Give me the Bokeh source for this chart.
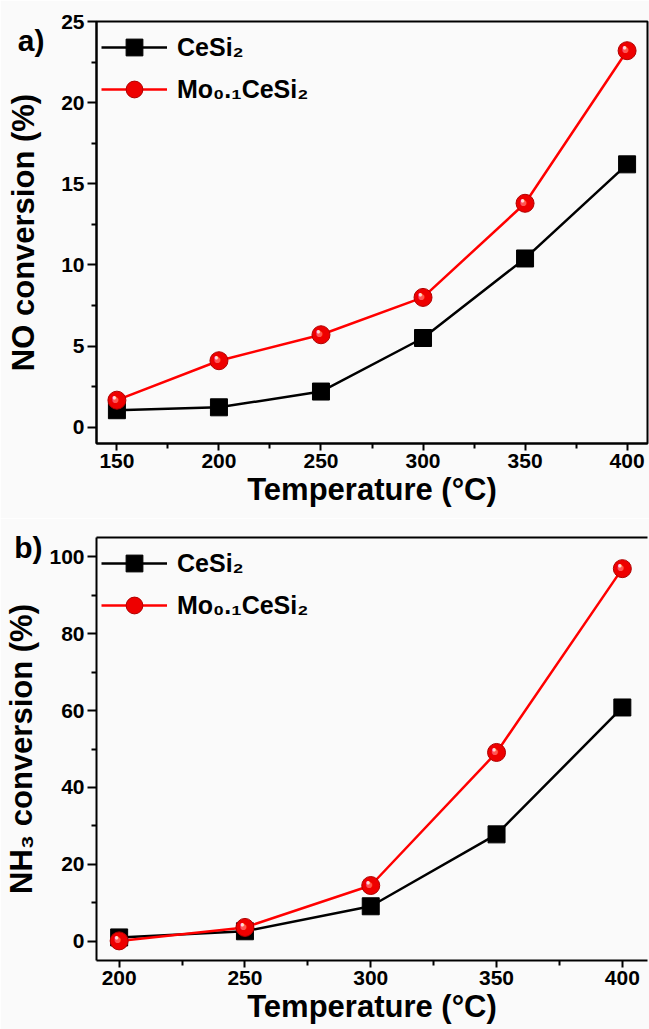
from bokeh.plotting import figure
from bokeh.models import Range1d, LinearAxis, Legend, LegendItem, FixedTicker
from bokeh.layouts import column
from bokeh.embed import file_html
from bokeh.resources import INLINE

# ---- data ----
temp_a = [150, 200, 250, 300, 350, 400]
no_cesi2 = [1.05, 1.23, 2.2, 5.5, 10.4, 16.2]
no_mo = [1.67, 4.1, 5.7, 8.0, 13.8, 23.2]

temp_b = [200, 250, 300, 350, 400]
nh3_cesi2 = [1.0, 2.6, 9.1, 27.8, 60.8]
nh3_mo = [0.1, 3.6, 14.5, 49.1, 96.9]

xticks_a = [150, 200, 250, 300, 350, 400]
yticks_a = [0, 5, 10, 15, 20, 25]
xticks_b = [200, 250, 300, 350, 400]
yticks_b = [0, 20, 40, 60, 80, 100]

series_labels = ["CeSi₂", "Mo₀.₁CeSi₂"]
xlabel = "Temperature (°C)"
ylabel_a = "NO conversion (%)"
ylabel_b = "NH₃ conversion (%)"
panel_tags = ["a)", "b)"]

FONT = "Liberation Sans"
BG = "#fafafa"


def mids(t):
    return [(a + b) / 2 for a, b in zip(t[:-1], t[1:])]


def style_axis(ax, ticks, tick_out, label=None, label_standoff=0):
    ax.ticker = FixedTicker(ticks=ticks, minor_ticks=mids(ticks))
    ax.axis_line_width = 2
    ax.axis_line_color = "black"
    ax.major_tick_line_width = 2
    ax.major_tick_out = tick_out
    ax.major_tick_in = 0
    ax.minor_tick_line_width = 2
    ax.minor_tick_out = 5
    ax.minor_tick_in = 0
    ax.major_label_text_font = FONT
    ax.major_label_text_font_style = "bold"
    ax.major_label_text_font_size = "21px"
    ax.major_label_text_color = "black"
    ax.major_label_standoff = 3
    ax.axis_label = label
    ax.axis_label_text_font = FONT
    ax.axis_label_text_font_style = "bold"
    ax.axis_label_text_font_size = "31px"
    ax.axis_label_text_color = "black"
    ax.axis_label_standoff = label_standoff


def make_panel(x, y1, y2, xr, yr, xt, yt, ylab, height, btop, bbot,
               tag, tag_pos, tag_standoff, ylab_standoff, boxed):
    p = figure(width=649, height=height, x_range=Range1d(*xr), y_range=Range1d(*yr),
               output_backend="svg", toolbar_location=None,
               min_border_left=96, min_border_right=2 if boxed else 0,
               min_border_top=btop, min_border_bottom=bbot,
               background_fill_color=BG, border_fill_color=BG)
    p.grid.visible = False
    style_axis(p.xaxis[0], xt, 7, xlabel, 1)
    style_axis(p.yaxis[0], yt, 9, None)

    # outer left axis: carries the panel tag "a)"/"b)" and the y-axis title
    outer = LinearAxis(ticker=FixedTicker(ticks=[tag_pos], minor_ticks=[]),
                       major_label_overrides={tag_pos: tag},
                       axis_line_color=None, major_tick_line_color=None,
                       minor_tick_line_color=None, major_tick_out=0, minor_tick_out=0,
                       major_label_standoff=tag_standoff,
                       major_label_text_font=FONT, major_label_text_font_style="bold",
                       major_label_text_font_size="30px", major_label_text_color="black",
                       axis_label=ylab, axis_label_text_font=FONT,
                       axis_label_text_font_style="bold", axis_label_text_font_size="31px",
                       axis_label_text_color="black", axis_label_standoff=ylab_standoff)
    p.add_layout(outer, "left")

    if boxed:
        p.outline_line_color = "black"
        p.outline_line_width = 2
        p.outline_line_alpha = 1
    else:
        p.outline_line_color = None
        top = LinearAxis(ticker=FixedTicker(ticks=[]), major_label_text_font_size="0px",
                         major_label_standoff=0, axis_line_width=2, major_tick_out=0,
                         minor_tick_out=0)
        p.add_layout(top, "above")

    l1 = p.line(x, y1, line_color="black", line_width=2.5)
    s1 = p.scatter(x, y1, marker="square", size=17, fill_color="black", line_color="black")
    l2 = p.line(x, y2, line_color="#ff0000", line_width=2.5)
    s2 = p.scatter(x, y2, marker="circle", size=18, fill_color="#ee0000", line_color="#b00000", line_width=1)
    p.text(x, y2, text=["●"] * len(x), x_offset=-1.5, y_offset=-1.5, text_align="center",
           text_baseline="middle", text_color="#ff5555", text_font_size="14px")
    p.text(x, y2, text=["●"] * len(x), x_offset=-2.5, y_offset=-3, text_align="center",
           text_baseline="middle", text_color="#ffd8d8", text_font_size="8px")

    leg = Legend(items=[LegendItem(label=series_labels[0], renderers=[l1, s1]),
                        LegendItem(label=series_labels[1], renderers=[l2, s2])],
                 location="top_left", margin=5, padding=0, glyph_width=66, glyph_height=42,
                 spacing=-2, label_standoff=10, label_text_font=FONT,
                 label_text_font_style="bold", label_text_font_size="25px",
                 label_text_color="black",
                 border_line_alpha=0, background_fill_alpha=0)
    p.add_layout(leg)
    return p


pa = make_panel(temp_a, no_cesi2, no_mo, (140, 410), (-1, 25), xticks_a, yticks_a,
                ylabel_a, 518, 21, 75, panel_tags[0], 23.8, 14, -26, True)
pb = make_panel(temp_b, nh3_cesi2, nh3_mo, (191, 410), (-5, 105), xticks_b, yticks_b,
                ylabel_b, 511, 19, 69, panel_tags[1], 102.4, 4, -28, False)

layout = column(pa, pb, spacing=0)
open("out.html", "w").write(file_html(layout, INLINE))
